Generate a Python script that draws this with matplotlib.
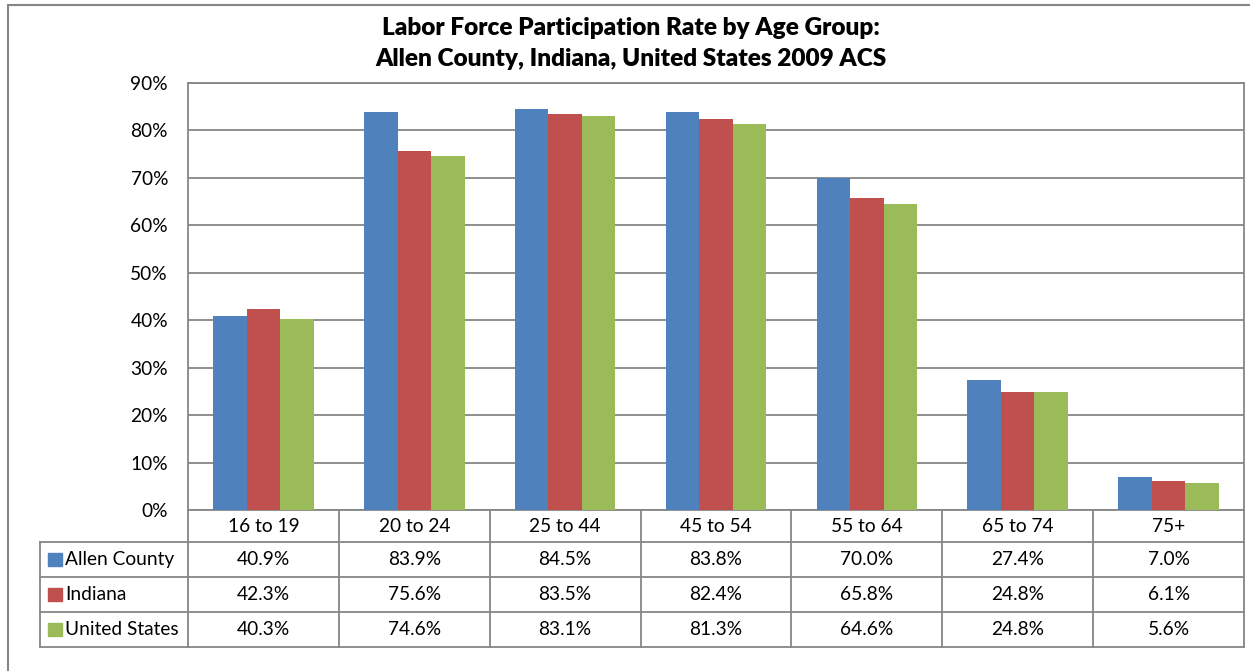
import matplotlib
matplotlib.use("Agg")
import matplotlib.pyplot as plt
from matplotlib.patches import Rectangle
from matplotlib.lines import Line2D
import numpy as np

categories = ["16 to 19", "20 to 24", "25 to 44", "45 to 54", "55 to 64", "65 to 74", "75+"]
series_names = ["Allen County", "Indiana", "United States"]
allen = [40.9, 83.9, 84.5, 83.8, 70.0, 27.4, 7.0]
indiana = [42.3, 75.6, 83.5, 82.4, 65.8, 24.8, 6.1]
us = [40.3, 74.6, 83.1, 81.3, 64.6, 24.8, 5.6]
colors = ["#4F81BD", "#C0504D", "#9BBB59"]
yticks = [0, 10, 20, 30, 40, 50, 60, 70, 80, 90]

plt.rcParams['font.family'] = ['Lato', 'DejaVu Sans']
W, H = 1250, 671
fig = plt.figure(figsize=(W/100, H/100), dpi=100)
gray = "#868686"
fs = 13.8

def fx(px): return px / W
def fy(py): return 1 - py / H

# outer border
fig.add_artist(Rectangle((fx(8), fy(700)), fx(1260) - fx(8), fy(5) - fy(700),
                         transform=fig.transFigure, fill=False, edgecolor=gray, lw=1.5))

ax = fig.add_axes([fx(188), fy(510), fx(1244) - fx(188), fy(83) - fy(510)])
x = np.arange(len(categories))
bw = 0.222
for i, (vals, c, n) in enumerate(zip([allen, indiana, us], colors, series_names)):
    ax.bar(x + (i - 1) * bw, vals, width=bw, color=c, label=n, zorder=3)
ax.set_xlim(-0.5, len(categories) - 0.5)
ax.set_ylim(0, 90)
ax.set_yticks(yticks)
ax.set_yticklabels([f"{t}%" for t in yticks], fontsize=fs)
ax.tick_params(axis='y', length=0, pad=14.4)
ax.set_xticks([])
ax.grid(axis='y', color=gray, lw=1.3, zorder=0)
for s in ax.spines.values():
    s.set_color(gray)
    s.set_linewidth(1.3)

# table
rows = [510, 542, 577, 612, 647]
colx = [188 + (1244 - 188) * k / 7 for k in range(8)]
lw = 1.3
def hline(x0, x1, y):
    fig.add_artist(Line2D([fx(x0), fx(x1)], [fy(y), fy(y)], transform=fig.transFigure, color=gray, lw=lw))
def vline(xp, y0, y1):
    fig.add_artist(Line2D([fx(xp), fx(xp)], [fy(y0), fy(y1)], transform=fig.transFigure, color=gray, lw=lw))

for y in rows[1:]:
    hline(40, 1244, y)
for xp in colx:
    vline(xp, 510, 647)
vline(40, 542, 647)

for k, c in enumerate(categories):
    fig.text(fx((colx[k] + colx[k + 1]) / 2), fy((rows[0] + rows[1]) / 2), c,
             ha='center', va='center', fontsize=fs)
for r, (vals, c, n) in enumerate(zip([allen, indiana, us], colors, series_names)):
    yc = (rows[r + 1] + rows[r + 2]) / 2
    fig.add_artist(Rectangle((fx(48), fy(yc + 6.5)), fx(62) - fx(48), fy(yc - 6.5) - fy(yc + 6.5),
                             transform=fig.transFigure, color=c))
    fig.text(fx(65), fy(yc), n, ha='left', va='center', fontsize=fs)
    for k, v in enumerate(vals):
        fig.text(fx((colx[k] + colx[k + 1]) / 2), fy(yc), f"{v:.1f}%",
                 ha='center', va='center', fontsize=fs)

fig.text(fx(631), fy(35), "Labor Force Participation Rate by Age Group:", ha='center', va='baseline',
         fontsize=17.6, fontweight='heavy')
fig.text(fx(631), fy(66), "Allen County, Indiana, United States 2009 ACS", ha='center', va='baseline',
         fontsize=17.6, fontweight='heavy')

fig.savefig("out.png", dpi=100)
